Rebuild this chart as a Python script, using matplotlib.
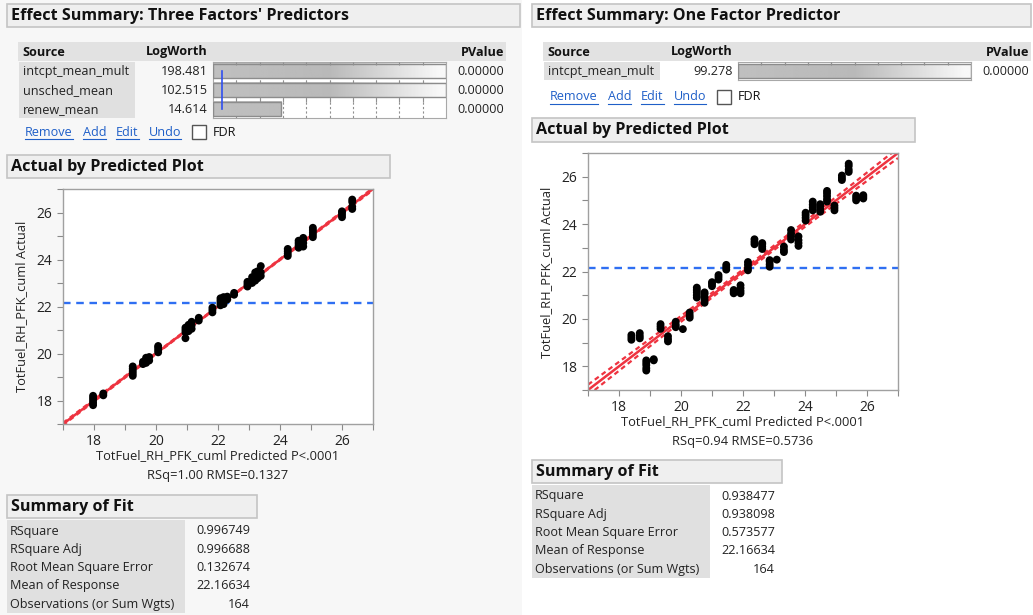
import numpy as np
import matplotlib
matplotlib.use('Agg')
import matplotlib.pyplot as plt
from matplotlib.patches import Rectangle
from matplotlib.ticker import MultipleLocator, FuncFormatter

plt.rcParams['font.family'] = ['Open Sans', 'Liberation Sans', 'DejaVu Sans']

# ---- data ----
left_title = "Effect Summary: Three Factors' Predictors"
right_title = "Effect Summary: One Factor Predictor"

left_sources = ['intcpt_mean_mult', 'unsched_mean', 'renew_mean']
left_logworth = [198.481, 102.515, 14.614]
left_pvalue = ['0.00000', '0.00000', '0.00000']

right_sources = ['intcpt_mean_mult']
right_logworth = [99.278]
right_pvalue = ['0.00000']

fit_labels = ['RSquare', 'RSquare Adj', 'Root Mean Square Error',
              'Mean of Response', 'Observations (or Sum Wgts)']
left_fit = ['0.996749', '0.996688', '0.132674', '22.16634', '164']
right_fit = ['0.938477', '0.938098', '0.573577', '22.16634', '164']

left_r2, left_rmse = 0.996749, 0.132674
right_r2, right_rmse = 0.938477, 0.573577
mean_resp = 22.16634
n_obs = 164

left_pred_groups = [17.97, 18.30, 19.25, 19.58, 19.68, 19.78, 20.07, 20.95, 21.05,
                    21.15, 21.38, 21.82, 22.08, 22.18, 22.30, 22.52, 22.95, 23.10,
                    23.20, 23.28, 23.38, 24.25, 24.60, 24.75, 25.06, 26.00, 26.33]
left_actual_groups = [
    [17.80, 17.90, 18.00, 18.10, 18.20], [18.22, 18.30],
    [19.05, 19.15, 19.25, 19.35, 19.45], [19.55, 19.65], [19.60, 19.72, 19.82],
    [19.70, 19.85], [20.05, 20.15, 20.25, 20.32], [20.65, 20.90, 21.00, 21.10],
    [20.95, 21.10, 21.22], [21.05, 21.20, 21.35], [21.40, 21.52],
    [21.75, 21.85, 21.95], [22.05, 22.15, 22.25, 22.35], [22.10, 22.20, 22.30, 22.40],
    [22.30, 22.42], [22.50, 22.58], [22.85, 22.95, 23.05], [23.00, 23.10, 23.25],
    [23.10, 23.25, 23.45], [23.20, 23.35, 23.50], [23.30, 23.45, 23.72],
    [24.15, 24.25, 24.35, 24.45], [24.50, 24.60, 24.70, 24.80],
    [24.55, 24.70, 24.85, 24.92], [24.95, 25.05, 25.15, 25.25, 25.35],
    [25.80, 25.90, 26.00, 26.05], [26.15, 26.25, 26.45, 26.55]]

right_pred_groups = [18.40, 18.67, 18.88, 19.12, 19.34, 19.58, 19.83, 20.06, 20.28,
                     20.51, 20.76, 21.00, 21.21, 21.46, 21.70, 21.92, 22.16, 22.37,
                     22.62, 22.86, 23.09, 23.32, 23.55, 23.79, 24.02, 24.25, 24.49,
                     24.71, 24.95, 25.19, 25.41, 25.65, 25.88]
right_actual_groups = [
    [19.12, 19.22, 19.32], [19.18, 19.28, 19.40], [17.82, 17.92, 18.05, 18.15, 18.25],
    [18.25, 18.30], [19.58, 19.68, 19.78], [19.05, 19.15, 19.27], [19.65, 19.75, 19.88],
    [19.57], [20.05, 20.15, 20.27], [20.90, 21.00, 21.12, 21.22, 21.32],
    [20.68, 20.80, 20.92, 21.05, 21.12], [21.38, 21.48, 21.55], [21.66, 21.76, 21.85],
    [22.08, 22.18, 22.28], [21.08, 21.15, 21.22], [21.08, 21.18, 21.30, 21.42],
    [22.05, 22.15, 22.28, 22.40], [23.15, 23.25, 23.36], [22.95, 23.05, 23.15, 23.20],
    [22.20, 22.30, 22.42, 22.48], [22.50], [22.82, 22.92, 23.05],
    [23.35, 23.48, 23.60, 23.75], [23.08, 23.20, 23.32, 23.48],
    [24.15, 24.27, 24.38, 24.48], [24.58, 24.70, 24.82, 24.95],
    [24.52, 24.62, 24.74, 24.84], [24.95, 25.05, 25.18, 25.30, 25.40],
    [24.58, 24.68, 24.78], [25.86, 25.95, 26.05], [26.20, 26.30, 26.45, 26.55],
    [25.00, 25.10, 25.20], [25.08, 25.15, 25.22]]

W, H = 1033, 615
fig = plt.figure(figsize=(W / 100, H / 100), dpi=100)
fig.patch.set_facecolor('white')

bg = fig.add_axes([0, 0, 1, 1])
bg.set_xlim(0, W)
bg.set_ylim(H, 0)
bg.axis('off')

FS = 9.1  # table text size


def frac(l, t, r, b):
    return [l / W, 1 - b / H, (r - l) / W, (b - t) / H]


def box(x0, y0, x1, y1, fc, ec='none', lw=1.0, z=1):
    bg.add_patch(Rectangle((x0, y0), x1 - x0, y1 - y0, facecolor=fc,
                           edgecolor=ec, lw=lw, zorder=z))


def header(x0, y0, x1, y1, text):
    box(x0, y0, x1, y1, '#efefef', '#c4c4c4', 1.2)
    bg.text(x0 + 4, (y0 + y1) / 2 + 0.5, text, fontsize=11.6, fontweight='bold',
            va='center', ha='left', color='#111111', zorder=3)


# left panel light background
box(0, 0, 522, H, '#f7f7f7', z=0)

renderer = fig.canvas.get_renderer()


def links(x0, y, cb_x):
    xs = x0
    for word in ['Remove', 'Add', 'Edit', 'Undo']:
        t = bg.text(xs, y, word, fontsize=FS, color='#1f5fc8', va='center',
                    ha='left', zorder=3)
        bb = t.get_window_extent(renderer).transformed(bg.transData.inverted())
        bg.plot([bb.x0, bb.x1], [y + 7, y + 7], color='#1f5fc8', lw=0.8, zorder=3)
        xs = bb.x1 + 10
    box(cb_x, y - 7, cb_x + 14, y + 7, 'white', '#555555', 1.0, z=3)
    bg.text(cb_x + 21, y, 'FDR', fontsize=FS, color='#111111', va='center',
            ha='left', zorder=3)


def gradient_bar(ax, row, value, xmax):
    length = min(value, xmax)
    f = np.linspace(0, 1, 300)
    shade = np.where(f < 0.5, 0.75 - 0.05 * f, 0.725 + 0.52 * (f - 0.5))
    shade = np.clip(shade, 0, 0.97)
    k = max(2, int(len(f) * length / xmax))
    img = np.tile(shade[:k], (2, 1))
    ax.imshow(img, cmap='gray', vmin=0, vmax=1, aspect='auto',
              extent=[0, length, row + 0.38, row - 0.38], zorder=2,
              interpolation='bilinear')
    ax.add_patch(Rectangle((0, row - 0.38), length, 0.76, facecolor='none',
                           edgecolor='#8c8c8c', lw=1.0, zorder=3))


def effect_table(x0, sources, logworth, pvalues, title, tx1):
    header(x0 - 11, 4, tx1 + 3, 27, title)
    box(x0, 42, x0 + 488, 61, '#e2e2e2')
    bg.text(x0 + 4, 52, 'Source', fontsize=FS, fontweight='bold', va='center',
            ha='left', color='#111111', zorder=3)
    bg.text(x0 + 190, 52, 'LogWorth', fontsize=FS, fontweight='bold',
            va='center', ha='right', color='#111111', zorder=3)
    bg.text(x0 + 486, 52, 'PValue', fontsize=FS, fontweight='bold',
            va='center', ha='right', color='#111111', zorder=3)
    nrow = len(sources)
    box(x0 + 1, 62, x0 + 117, 62 + 19 * nrow - 1, '#e0e0e0')
    for i, (s, lw_, pv) in enumerate(zip(sources, logworth, pvalues)):
        yc = 71.5 + 19 * i
        bg.text(x0 + 5, yc, s, fontsize=FS, va='center', ha='left',
                color='#222222', zorder=3)
        bg.text(x0 + 190, yc, f'{lw_:.3f}', fontsize=FS, va='center',
                ha='right', color='#222222', zorder=3)
        bg.text(x0 + 486, yc, pv, fontsize=FS, va='center', ha='right',
                color='#222222', zorder=3)
    # LogWorth bars
    ax = fig.add_axes(frac(x0 + 195, 62, x0 + 428, 62 + 19 * nrow - 1))
    xmax = 50
    ax.set_xlim(0, xmax)
    ax.set_ylim(nrow - 0.5, -0.5)
    ax.set_facecolor('white')
    for sp in ax.spines.values():
        sp.set_color('#a8a8a8')
    ax.set_xticks([])
    ax.set_yticks([])
    grid = np.arange(5, xmax, 5)
    ax.vlines(grid, -0.5, nrow - 0.5, colors='#909090', linestyles=(0, (2, 2)),
              lw=0.8, zorder=1)
    for i in range(nrow):
        ax.vlines(grid, i - 0.5, i - 0.36, colors='#909090', lw=0.8, zorder=4)
    for i, v in enumerate(logworth):
        gradient_bar(ax, i, v, xmax)
    if nrow > 1:
        ax.plot([2, 2], [0, nrow - 1], color='#2f4ff0', lw=1.2, zorder=5)


def summary(x0, y0, values):
    header(x0, y0, x0 + 250, y0 + 23, 'Summary of Fit')
    box(x0, y0 + 25, x0 + 178, y0 + 25 + 18.5 * 5, '#e0e0e0')
    for i, (lab, val) in enumerate(zip(fit_labels, values)):
        yc = y0 + 36 + 18.3 * i
        bg.text(x0 + 3, yc, lab, fontsize=FS, va='center', ha='left',
                color='#222222', zorder=3)
        bg.text(x0 + 243, yc, val, fontsize=FS, va='center', ha='right',
                color='#222222', zorder=3)


def scatter_plot(rect, pred_groups, actual_groups, r2, rmse, ylab_xy, xlab_y, line2):
    l, t, r, b = rect
    ax = fig.add_axes(frac(l, t, r, b))
    ax.set_facecolor('white')
    px = [p for p, ys in zip(pred_groups, actual_groups) for _ in ys]
    py = [y for ys in actual_groups for y in ys]
    ax.set_xlim(17, 27)
    ax.set_ylim(17, 27)
    # fit line with confidence bands derived from the summary values
    xl = np.linspace(17, 27, 60)
    sxx = r2 * rmse ** 2 * (n_obs - 2) / (1 - r2)
    half = 1.975 * rmse * np.sqrt(1 / n_obs + (xl - mean_resp) ** 2 / sxx)
    red = '#ee3340'
    ax.plot(xl, xl, color=red, lw=1.8, zorder=2)
    ax.plot(xl, xl + half, color=red, lw=1.6, ls=(0, (2.2, 1.6)), zorder=2)
    ax.plot(xl, xl - half, color=red, lw=1.6, ls=(0, (2.2, 1.6)), zorder=2)
    ax.axhline(mean_resp, color='#2f6ff2', lw=1.7, ls=(0, (3.2, 2.4)), zorder=2)
    ax.scatter(px, py, s=32, color='black', edgecolors='none', zorder=3)
    ax.xaxis.set_major_locator(MultipleLocator(1))
    ax.yaxis.set_major_locator(MultipleLocator(1))
    fmt = FuncFormatter(lambda v, pos: f'{v:.0f}' if round(v) % 2 == 0 else '')
    ax.xaxis.set_major_formatter(fmt)
    ax.yaxis.set_major_formatter(fmt)
    ax.tick_params(direction='out', length=4.5, width=0.8, color='#8a8a8a',
                   labelsize=10, labelcolor='#222222', pad=3)
    for sp in ax.spines.values():
        sp.set_color('#a0a0a0')
        sp.set_linewidth(1.0)
    cx = (l + r) / 2
    bg.text(ylab_xy[0], ylab_xy[1], 'TotFuel_RH_PFK_cuml Actual', rotation=90,
            fontsize=9.3, va='center', ha='center', color='#222222')
    bg.text(cx, xlab_y, 'TotFuel_RH_PFK_cuml Predicted P<.0001', fontsize=9.3,
            va='center', ha='center', color='#222222')
    bg.text(cx, xlab_y + 19, line2, fontsize=9.3, va='center', ha='center',
            color='#222222')


# left panel
effect_table(18, left_sources, left_logworth, left_pvalue, left_title, 517)
links(25, 132, 192)
header(7, 155, 390, 178, 'Actual by Predicted Plot')
scatter_plot((63, 189, 373, 424), left_pred_groups, left_actual_groups,
             left_r2, left_rmse, (22, 306), 456, 'RSq=1.00 RMSE=0.1327')
summary(7, 495, left_fit)

# right panel
effect_table(543, right_sources, right_logworth, right_pvalue, right_title, 1028)
links(550, 97, 717)
header(532, 118, 915, 142, 'Actual by Predicted Plot')
scatter_plot((588, 153, 898, 390), right_pred_groups, right_actual_groups,
             right_r2, right_rmse, (547, 272), 422, 'RSq=0.94 RMSE=0.5736')
summary(532, 460, right_fit)

fig.savefig('out.png', dpi=100)
